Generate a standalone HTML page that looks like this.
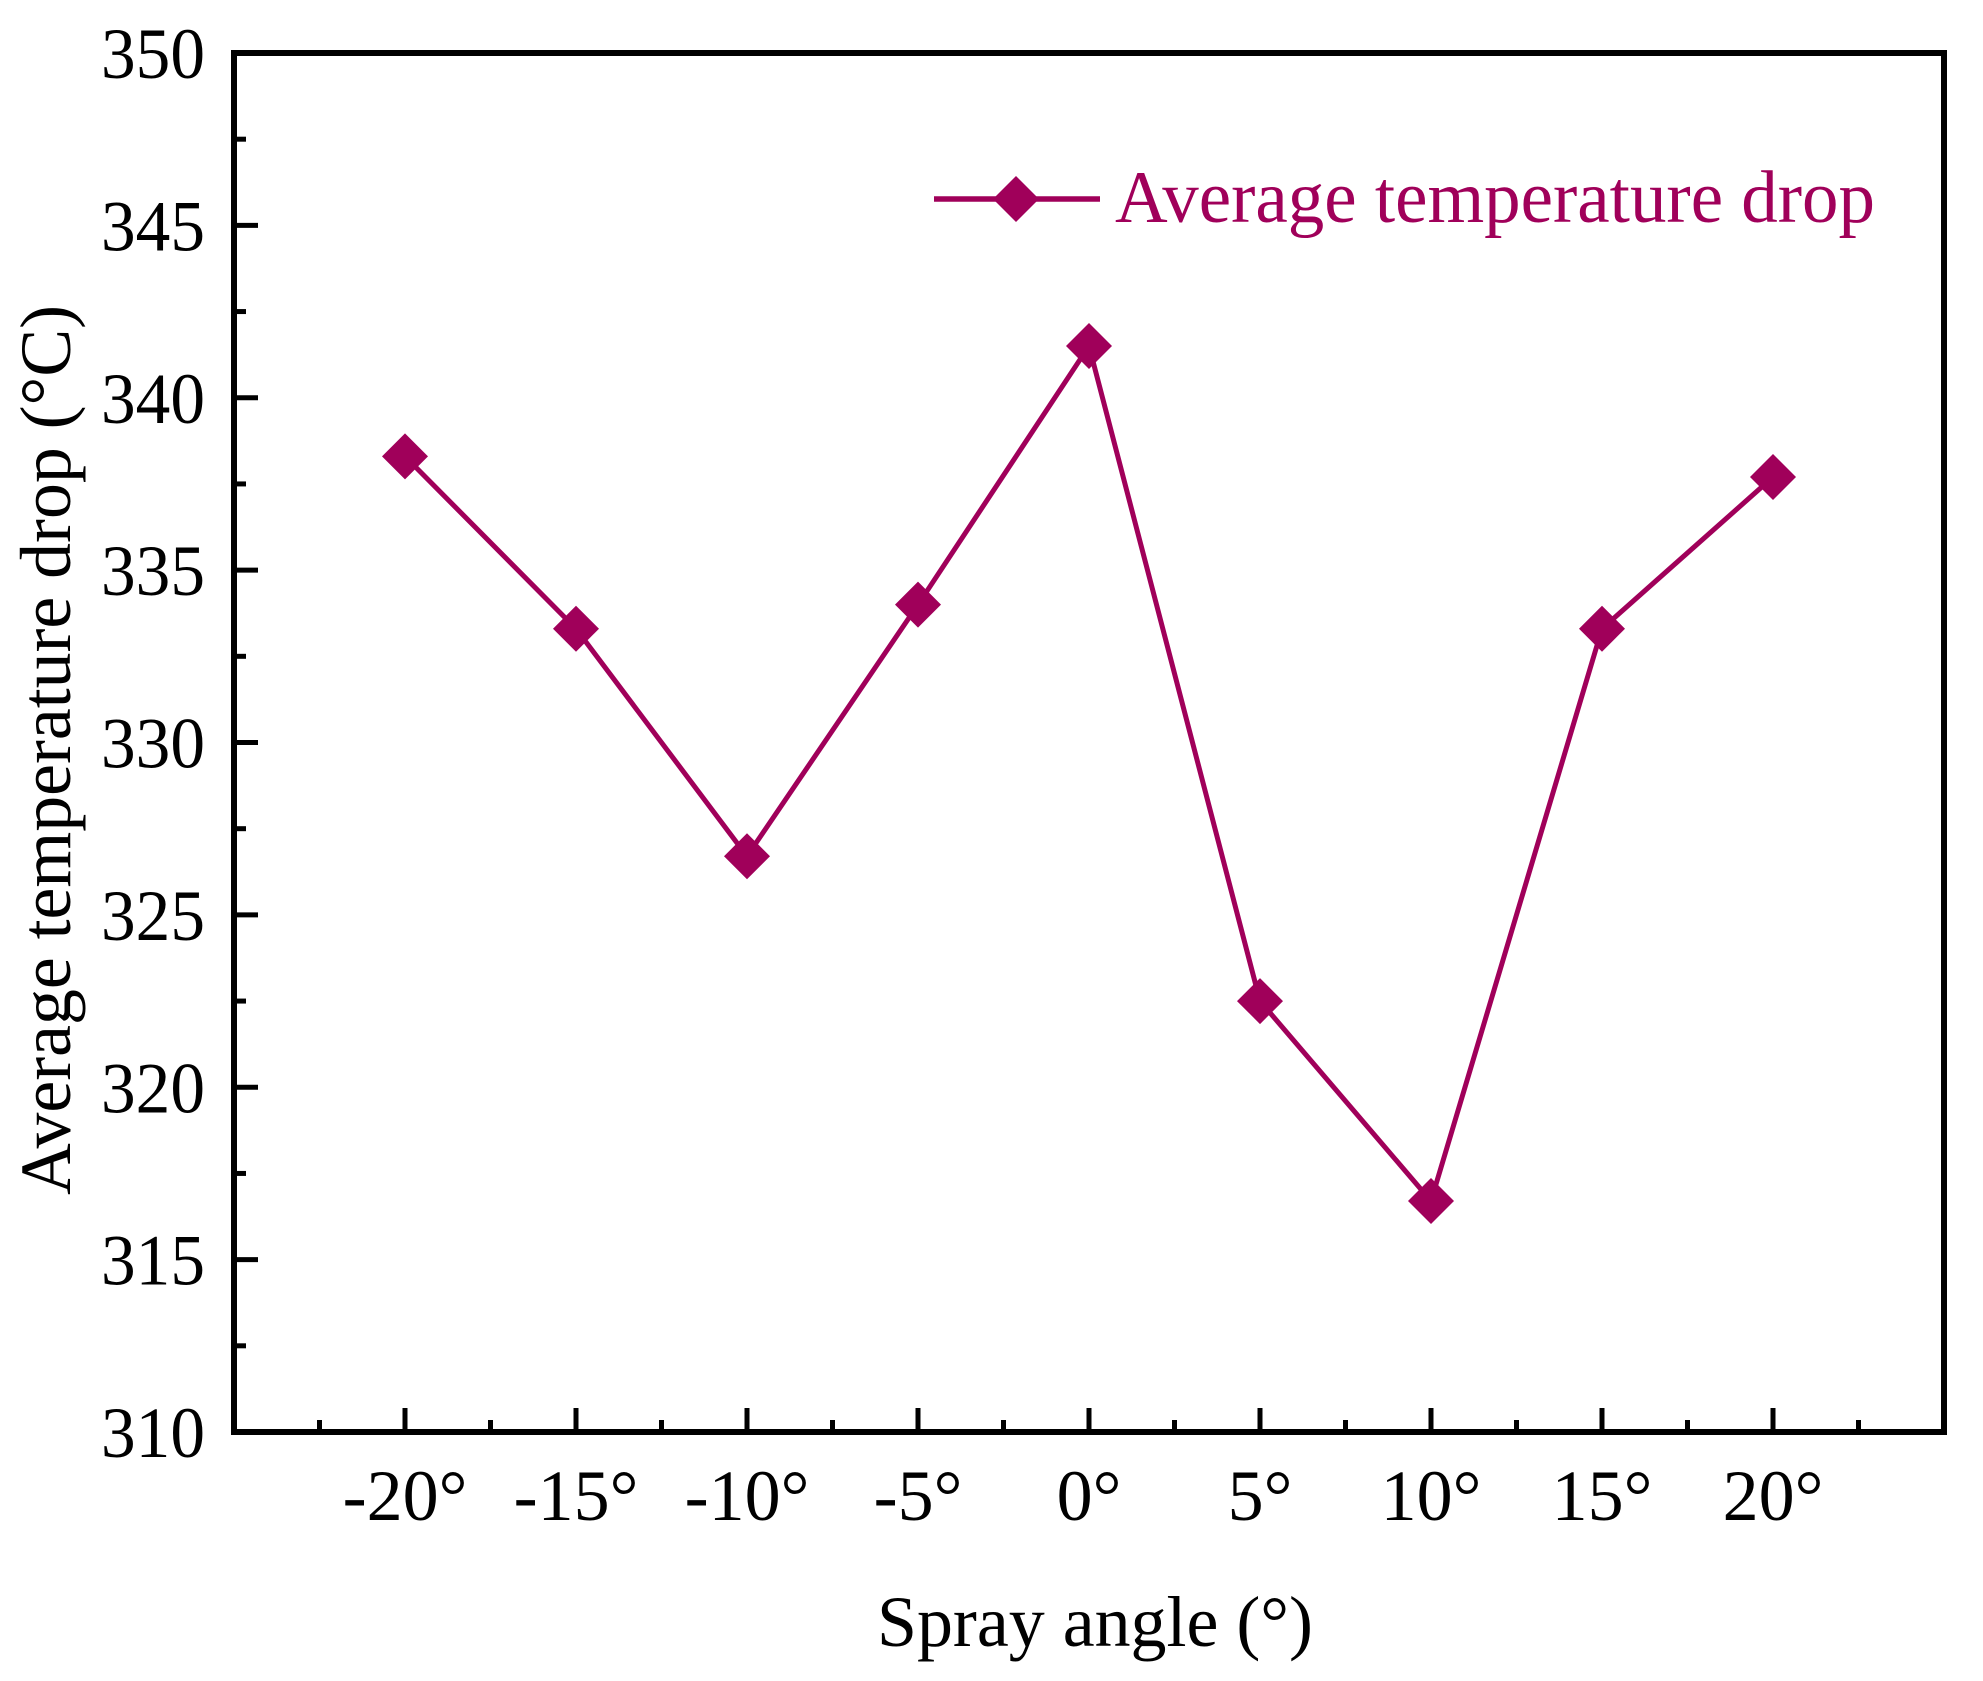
<!DOCTYPE html>
<html><head><meta charset="utf-8"><style>
html,body{margin:0;padding:0;background:#fff;}
svg{display:block;font-family:"Liberation Serif",serif;}
</style></head><body>
<svg id="chart" width="1983" height="1681" viewBox="0 0 1983 1681" xmlns="http://www.w3.org/2000/svg">
<g id="axes"></g><g id="series"></g>
<g>
<line x1="934" y1="199" x2="1100" y2="199" stroke="#a0005a" stroke-width="5.5"/>
<polygon points="1016,176 1039,199 1016,222 993,199" fill="#a0005a"/>
<text x="1115" y="222" font-size="74" fill="#a0005a" textLength="760" lengthAdjust="spacingAndGlyphs">Average temperature drop</text>
</g>
<text x="1095" y="1646" font-size="72" text-anchor="middle" textLength="436" lengthAdjust="spacingAndGlyphs">Spray angle (°)</text>
<text transform="translate(70,750) rotate(-90)" font-size="72" text-anchor="middle" textLength="890" lengthAdjust="spacingAndGlyphs">Average temperature drop (°C)</text>
</svg>
<script>
const categories = [-20, -15, -10, -5, 0, 5, 10, 15, 20];
const xTickLabels = ["-20°", "-15°", "-10°", "-5°", "0°", "5°", "10°", "15°", "20°"];
const seriesValues = [338.3, 333.3, 326.7, 334.0, 341.5, 322.5, 316.7, 333.3, 337.7];
const yTicks = [310, 315, 320, 325, 330, 335, 340, 345, 350];

const L = 234, R = 1944, T = 53, B = 1432;
const xMin = -25, xMax = 25, yMin = 310, yMax = 350;
const NS = "http://www.w3.org/2000/svg";
function xs(v){ return L + (v - xMin) / (xMax - xMin) * (R - L); }
function ys(v){ return B - (v - yMin) / (yMax - yMin) * (B - T); }
function mk(tag, attrs, parent){ const e = document.createElementNS(NS, tag); for (const k in attrs) e.setAttribute(k, attrs[k]); parent.appendChild(e); return e; }

const axes = document.getElementById('axes');
const frame = mk('rect', {x:L, y:T, width:R-L, height:B-T, fill:'none', stroke:'#000', 'stroke-width':6}, axes);



for (let v = xMin + 2.5; v < xMax; v += 2.5) {
  const major = Math.abs(v % 5) < 0.01;
  const t = mk('line', {x1:xs(v), x2:xs(v), y1:B, y2:B - (major ? 24 : 12), stroke:'#000', 'stroke-width':5}, axes);
  
  
}
categories.forEach((c, i) => {
  const t = mk('text', {x:xs(c), y:1520, 'font-size':72, 'text-anchor':'middle'}, axes);
  t.textContent = xTickLabels[i];
  
  
});
for (let v = yMin + 2.5; v < yMax; v += 2.5) {
  const major = Math.abs(v % 5) < 0.01;
  const t = mk('line', {x1:L, x2:L + (major ? 24 : 12), y1:ys(v), y2:ys(v), stroke:'#000', 'stroke-width':5}, axes);
  
  
}
yTicks.forEach(v => {
  const t = mk('text', {x:205, y:ys(v) + 25, 'font-size':72, 'text-anchor':'end', textLength:104, lengthAdjust:'spacingAndGlyphs'}, axes);
  t.textContent = String(v);
  
  
});

const g = document.getElementById('series');
const pts = categories.map((c, i) => xs(c) + ',' + ys(seriesValues[i])).join(' ');
const line = mk('polyline', {points:pts, fill:'none', stroke:'#a0005a', 'stroke-width':5, 'stroke-linejoin':'round'}, g);


categories.forEach((c, i) => {
  const x = xs(c), y = ys(seriesValues[i]), s = 23;
  const p = mk('polygon', {points:`${x},${y-s} ${x+s},${y} ${x},${y+s} ${x-s},${y}`, fill:'#a0005a'}, g);
  
  
});
</script>
</body></html>
